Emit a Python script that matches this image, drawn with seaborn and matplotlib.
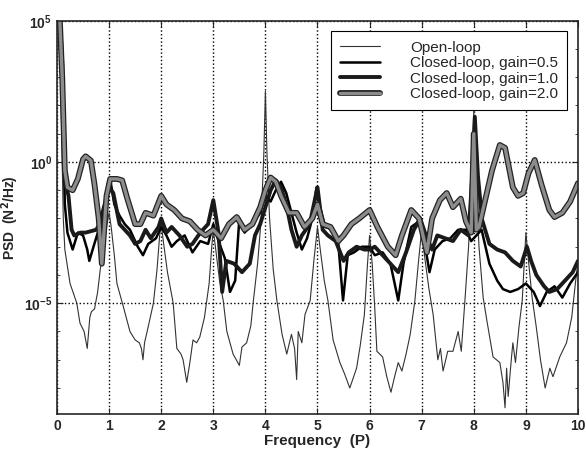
import numpy as np
import pandas as pd
import matplotlib
matplotlib.use("Agg")
import matplotlib.pyplot as plt
import matplotlib.patheffects as pe
import seaborn as sns

# PSD values, stored as log10 exponents
open_f = [0.0, 0.02, 0.07, 0.1, 0.12, 0.15, 0.25, 0.38, 0.44, 0.52, 0.58, 0.63, 0.66, 0.72, 0.78, 0.83, 0.9, 0.96,
          1.0, 1.04, 1.1, 1.15, 1.27, 1.4, 1.5, 1.58, 1.62, 1.65, 1.68, 1.73, 1.85, 1.92, 1.97,
          2.0, 2.04, 2.12, 2.23, 2.3, 2.38, 2.42, 2.49, 2.55, 2.61, 2.68, 2.74, 2.83, 2.92, 2.97,
          3.0, 3.04, 3.12, 3.19, 3.26, 3.38, 3.5, 3.55, 3.64, 3.72, 3.77, 3.85, 3.92, 3.97,
          4.0, 4.03, 4.08, 4.15, 4.22, 4.32, 4.41, 4.5, 4.56, 4.6, 4.63, 4.7, 4.76, 4.86, 4.93,
          5.0, 5.06, 5.13, 5.2, 5.3, 5.43, 5.52, 5.62, 5.75, 5.82, 5.9, 5.96,
          6.0, 6.05, 6.1, 6.14, 6.25, 6.33, 6.41, 6.48, 6.55, 6.62, 6.7, 6.78, 6.87, 6.94,
          7.0, 7.06, 7.14, 7.22, 7.31, 7.36, 7.41, 7.5, 7.6, 7.7, 7.76, 7.83, 7.9, 7.96,
          8.0, 8.04, 8.1, 8.18, 8.25, 8.37, 8.5, 8.56, 8.6, 8.63, 8.66, 8.72, 8.75, 8.8, 8.87, 8.93, 8.97,
          9.0, 9.05, 9.12, 9.2, 9.28, 9.37, 9.46, 9.52, 9.65, 9.78, 9.88, 9.95, 10.0]
open_exp = [6.0, 6.0, 3.0, 0.0, -2.0, -3.1, -4.3, -5.0, -5.7, -6.0, -6.6, -5.5, -5.3, -5.2, -4.6, -3.8, -3.0, -2.2,
            -1.8, -2.3, -3.3, -4.3, -5.1, -6.0, -6.3, -6.4, -6.6, -7.0, -6.4, -6.0, -5.0, -3.8, -2.6,
            -2.2, -2.8, -3.9, -5.0, -6.6, -6.8, -7.0, -7.8, -7.1, -6.3, -6.4, -6.2, -5.5, -4.3, -3.0,
            -2.4, -3.0, -4.2, -4.9, -6.0, -6.8, -7.2, -6.55, -6.4, -5.8, -4.9, -3.6, -2.0, 0.3,
            2.5, 0.3, -2.0, -3.8, -4.9, -6.1, -6.8, -6.1, -6.6, -7.7, -6.0, -6.4, -5.4, -4.9, -3.5,
            -2.3, -3.2, -4.2, -4.9, -6.3, -7.1, -7.5, -8.0, -7.3, -6.5, -5.4, -3.6,
            -2.6, -3.6, -5.2, -6.7, -6.9, -7.6, -8.15, -7.6, -7.1, -7.4, -6.8, -6.1, -4.9, -3.5,
            -2.4, -3.4, -4.5, -5.4, -7.0, -6.6, -7.4, -6.7, -6.7, -6.0, -6.7, -4.9, -3.0, -0.5,
            1.8, -0.5, -3.0, -4.8, -5.6, -6.9, -7.1, -7.8, -8.7, -7.3, -8.3, -7.0, -6.4, -7.1, -5.8, -4.9, -3.5,
            -2.5, -3.5, -4.8, -5.85, -7.0, -8.0, -7.3, -7.6, -6.9, -6.4, -5.5, -4.3, -3.5]

g05_f = [0.0, 0.05, 0.1, 0.15, 0.2, 0.3, 0.4, 0.5, 0.58, 0.62, 0.7, 0.8, 0.9, 0.97,
         1.02, 1.1, 1.2, 1.3, 1.4, 1.55, 1.65, 1.75, 1.9, 2.0, 2.1, 2.2, 2.3, 2.45, 2.6, 2.75, 2.9,
         3.0, 3.1, 3.22, 3.32, 3.42, 3.5, 3.6, 3.75, 3.9, 4.0, 4.1, 4.2, 4.3, 4.4, 4.5, 4.6, 4.7, 4.8, 4.9, 4.98,
         5.05, 5.15, 5.3, 5.4, 5.49, 5.58, 5.7, 5.85, 6.0, 6.1, 6.25, 6.4, 6.55, 6.65, 6.8, 6.95,
         7.05, 7.15, 7.25, 7.4, 7.55, 7.7, 7.85, 7.95, 8.05, 8.15, 8.3, 8.45, 8.56, 8.7, 8.85,
         9.0, 9.15, 9.27, 9.4, 9.55, 9.7, 9.85, 10.0]
g05_exp = [5.5, 5.3, 2.5, -1.5, -2.5, -3.1, -2.5, -2.6, -3.1, -3.5, -3.0, -2.4, -1.8, -0.8,
           -0.6, -1.5, -1.9, -2.2, -2.4, -3.0, -3.3, -2.9, -2.7, -2.3, -2.6, -3.0, -2.8, -2.6, -3.2, -2.8, -2.9,
           -2.2, -2.8, -3.4, -4.6, -4.2, -2.0, -2.5, -2.2, -1.8, -1.2, -1.4, -1.0, -0.7, -1.1, -1.8, -2.5, -3.1, -2.7, -2.0, -0.9,
           -1.6, -2.3, -2.4, -2.9, -4.9, -3.3, -3.2, -3.0, -3.0, -3.3, -3.2, -3.6, -4.9, -3.6, -2.3, -2.1,
           -2.8, -3.9, -3.1, -2.8, -2.7, -2.4, -2.4, -2.8, -2.6, -2.4, -3.6, -4.2, -4.5, -4.6, -4.5,
           -4.3, -4.6, -5.1, -4.6, -4.4, -4.8, -4.3, -3.9]

g10_f = [0.0, 0.05, 0.1, 0.13, 0.17, 0.22, 0.28, 0.33, 0.45, 0.55, 0.65, 0.75, 0.82, 0.9,
         1.0, 1.08, 1.2, 1.3, 1.4, 1.5, 1.6, 1.7, 1.8, 1.95, 2.0, 2.1, 2.2, 2.35, 2.5, 2.6, 2.75, 2.9,
         3.0, 3.1, 3.17, 3.25, 3.4, 3.55, 3.7, 3.8, 3.9, 4.0, 4.1, 4.2, 4.3, 4.4, 4.5, 4.6, 4.7, 4.85,
         5.0, 5.1, 5.2, 5.35, 5.5, 5.6, 5.75, 5.9, 6.0, 6.1, 6.25, 6.4, 6.55, 6.7, 6.85, 6.97,
         7.1, 7.2, 7.3, 7.45, 7.6, 7.75, 7.9, 7.97, 8.02, 8.08, 8.16, 8.3, 8.45, 8.6, 8.75, 8.9,
         9.02, 9.1, 9.2, 9.35, 9.45, 9.6, 9.75, 9.9, 10.0]
g10_exp = [5.5, 5.3, 3.5, 0.5, -0.8, -1.2, -2.4, -2.6, -2.5, -2.5, -2.45, -2.4, -2.2, -1.6,
           -0.9, -1.1, -2.2, -2.4, -2.6, -2.9, -2.8, -2.4, -2.7, -2.3, -2.0, -2.5, -2.3, -2.6, -3.0, -2.9, -2.5, -2.2,
           -1.35, -2.5, -4.6, -3.5, -3.6, -3.9, -3.6, -2.6, -2.2, -1.6, -1.0, -0.65, -0.9, -1.5, -2.4, -3.0, -2.6, -2.2,
           -0.9, -2.4, -2.6, -2.8, -3.5, -3.2, -3.0, -3.1, -3.1, -3.0, -3.3, -3.6, -3.9, -3.2, -2.4, -2.0,
           -2.7, -3.1, -2.6, -2.7, -2.8, -2.4, -2.6, -0.5, 1.6, -0.5, -2.05, -2.9, -3.1, -3.2, -3.5, -3.7,
           -3.0, -3.5, -4.0, -4.4, -4.6, -4.5, -4.2, -3.9, -3.5]

g20_f = [0.0, 0.05, 0.1, 0.15, 0.2, 0.3, 0.4, 0.5, 0.55, 0.65, 0.72, 0.8, 0.86, 0.95,
         1.02, 1.15, 1.25, 1.35, 1.5, 1.6, 1.7, 1.85, 2.0, 2.1, 2.25, 2.4, 2.55, 2.7, 2.85,
         3.0, 3.15, 3.3, 3.45, 3.6, 3.75, 3.9, 4.0, 4.1, 4.2, 4.3, 4.45, 4.6, 4.75, 4.9,
         5.0, 5.1, 5.25, 5.4, 5.5, 5.65, 5.8, 6.0, 6.15, 6.35, 6.5, 6.62, 6.8, 6.95,
         7.1, 7.2, 7.35, 7.48, 7.6, 7.75, 7.85, 7.95, 8.0, 8.05, 8.1, 8.2, 8.35, 8.5, 8.6, 8.75, 8.85, 8.95,
         9.05, 9.17, 9.3, 9.45, 9.55, 9.7, 9.85, 10.0]
g20_exp = [5.5, 5.2, 3.0, -0.3, -0.9, -1.0, -0.6, 0.1, 0.2, 0.05, -0.8, -2.0, -3.6, -1.2,
           -0.6, -0.6, -0.65, -1.3, -2.2, -2.2, -1.8, -1.9, -1.2, -1.5, -1.7, -2.0, -2.1, -2.4, -2.6,
           -2.4, -2.7, -2.2, -1.95, -2.4, -2.2, -1.6, -1.0, -0.55, -0.7, -1.2, -1.8, -1.8, -2.3, -2.0,
           -1.5, -2.2, -2.3, -2.8, -2.6, -2.2, -2.0, -1.7, -2.3, -3.0, -3.3, -2.6, -1.7, -2.0,
           -3.2, -2.0, -1.35, -1.1, -1.6, -1.3, -2.1, -2.5, 1.0, -2.4, -2.3, -1.5, -0.3, 0.6, 0.5, -0.9, -1.2, -1.1,
           -0.4, 0.07, -0.8, -1.7, -1.95, -1.8, -1.4, -0.75]

labels = ["Open-loop", "Closed-loop, gain=0.5", "Closed-loop, gain=1.0", "Closed-loop, gain=2.0"]

sns.set_style("ticks")
plt.rcParams["font.family"] = ["Liberation Sans", "DejaVu Sans"]

fig = plt.figure(figsize=(5.86, 4.5), dpi=100)
ax = fig.add_axes([0.0973, 0.080, 0.889, 0.874])

series = [
    (open_f, open_exp, labels[0], dict(color="#333333", linewidth=0.8)),
    (g05_f, g05_exp, labels[1], dict(color="black", linewidth=1.8)),
    (g10_f, g10_exp, labels[2], dict(color="#1a1a1a", linewidth=2.8)),
    (g20_f, g20_exp, labels[3], dict(color="#8c8c8c", linewidth=2.4,
                                     path_effects=[pe.Stroke(linewidth=4.2, foreground="#222222"), pe.Normal()])),
]
for f, e, lab, style in series:
    df = pd.DataFrame({"f": f, "psd": 10.0 ** np.array(e)})
    sns.lineplot(data=df, x="f", y="psd", ax=ax, label=lab, estimator=None, **style)

ax.set_yscale("log")
ax.set_xlim(0, 10)
ax.set_ylim(10 ** -8.92, 1e5)
ax.set_xticks(range(0, 11))
ax.set_yticks([1e-5, 1e0, 1e5])
ax.yaxis.set_minor_locator(matplotlib.ticker.LogLocator(base=10, subs=[1.0], numticks=30))
ax.yaxis.set_minor_formatter(matplotlib.ticker.NullFormatter())
ax.grid(True, which="major", linestyle=":", color="black", linewidth=1.0)
ax.tick_params(which="both", direction="in", top=True, right=True)
ax.tick_params(which="major", length=4, labelsize=10)
ax.tick_params(which="minor", length=2.5)
for lab in ax.get_xticklabels() + ax.get_yticklabels():
    lab.set_fontweight("bold")
for s in ax.spines.values():
    s.set_linewidth(1.2)

ax.set_xlabel("Frequency  (P)", fontsize=11, fontweight="bold", labelpad=1)
ax.set_ylabel("PSD  (N$^\\mathbf{2}$/Hz)", fontsize=10, fontweight="bold", labelpad=2)

leg = ax.legend(loc="upper right", fontsize=11, frameon=True, fancybox=False,
                handlelength=2.6, borderaxespad=0.7, labelspacing=0.1, handletextpad=2.0,
                borderpad=0.6)
leg.get_frame().set_edgecolor("black")
leg.get_frame().set_linewidth(0.8)
leg.get_frame().set_alpha(1.0)

fig.savefig("out.png", dpi=100)
